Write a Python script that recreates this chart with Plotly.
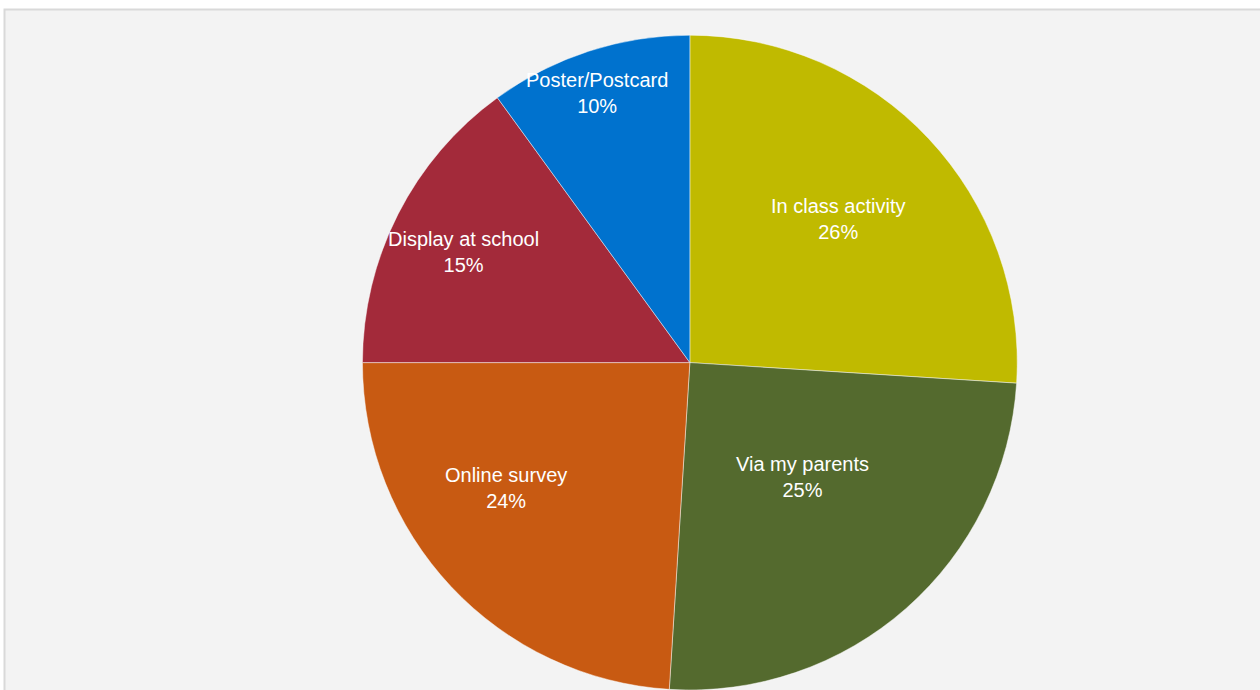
import math
import plotly.graph_objects as go

# Survey responses: how pupils took part
categories = ["In class activity", "Via my parents", "Online survey",
              "Display at school", "Poster/Postcard"]
shares = [26, 25, 24, 15, 10]
slice_colors = ["#C0BA00", "#546A2E", "#C85A12", "#A32A3A", "#0072CE"]

# Label placement: fraction of radius and angular nudge (degrees, clockwise)
label_radius = [0.63, 0.49, 0.68, 0.77, 0.87]
label_nudge = [-1, -3, 9, -1, -1]

W, H = 1260, 690
dom_x = [0.15, 0.945]
dom_y = [0.0, 0.949]

fig = go.Figure()

fig.add_trace(go.Pie(
    labels=categories,
    values=shares,
    sort=False,
    direction="clockwise",
    rotation=0,
    marker=dict(colors=slice_colors,
                line=dict(color="rgba(255,255,255,0.45)", width=1)),
    textinfo="none",
    hoverinfo="label+percent",
    showlegend=False,
    domain=dict(x=dom_x, y=dom_y),
))

# Pie geometry in pixels, to place the labels
dom_w = (dom_x[1] - dom_x[0]) * W
dom_h = (dom_y[1] - dom_y[0]) * H
radius = min(dom_w, dom_h) / 2
cx = (dom_x[0] + dom_x[1]) / 2 * W
cy = H - (dom_y[0] + dom_y[1]) / 2 * H

total = sum(shares)
start = 0.0
annotations = []
for name, val, rf, nudge in zip(categories, shares, label_radius, label_nudge):
    mid = (start + val / 2) / total * 360 + nudge
    start += val
    th = math.radians(mid)
    px = cx + rf * radius * math.sin(th)
    py = cy - rf * radius * math.cos(th)
    pct = round(val / total * 100)
    annotations.append(dict(
        x=px / W, y=1 - py / H, xref="paper", yref="paper",
        text=f"{name}<br>{pct}%", showarrow=False,
        xanchor="center", yanchor="middle", align="center",
        font=dict(family="Liberation Sans, Arial, sans-serif", size=20,
                  color="white"),
    ))

fig.update_layout(
    width=W, height=H,
    margin=dict(l=0, r=0, t=0, b=0),
    paper_bgcolor="white",
    plot_bgcolor="white",
    annotations=annotations,
    shapes=[dict(
        type="rect", xref="paper", yref="paper",
        x0=4.5 / W, x1=1.01, y0=-0.01, y1=1 - 9.5 / H,
        fillcolor="#f3f3f3", line=dict(color="#d9d9d9", width=2),
        layer="below",
    )],
)

fig.write_html("out.html")
